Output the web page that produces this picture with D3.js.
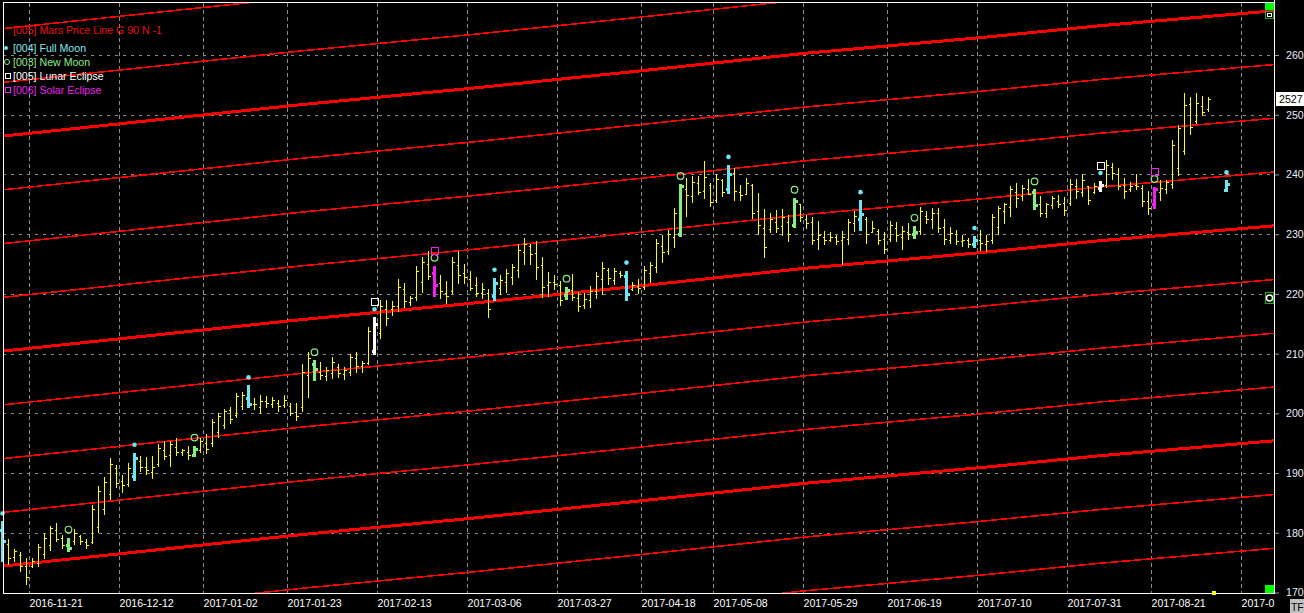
<!DOCTYPE html>
<html>
<head>
<meta charset="utf-8">
<script src="https://cdn.jsdelivr.net/npm/d3@7"></script>
<style>
  html, body { margin: 0; padding: 0; background: #000; }
  svg { display: block; }
</style>
</head>
<body>
<svg id="chart" width="1304" height="613"></svg>
<script>
"use strict";

// x axis: bar index of each labelled date, and the labels
const tickIdx = [5, 20, 34, 48, 63, 78, 93, 107, 119, 134, 148, 163, 178, 192, 207];
const tickLabels = ["2016-11-21", "2016-12-12", "2017-01-02", "2017-01-23", "2017-02-13",
  "2017-03-06", "2017-03-27", "2017-04-18", "2017-05-08", "2017-05-29", "2017-06-19",
  "2017-07-10", "2017-07-31", "2017-08-21", "2017-09-11"];
const yTicks = [170, 180, 190, 200, 210, 220, 230, 240, 250, 260];

// daily OHLC bars, index 0 = 2016-11-14
const barHigh = [181.9,178.9,177.3,176.8,175.8,175.7,178.1,179.9,181.2,181.7,
  179.6,179.2,180.6,179.7,179.0,184.7,187.9,189.4,192.5,191.4,
  189.6,191.7,193.4,192.9,192.7,192.9,194.9,195.3,195.4,195.8,
  194.0,194.6,194.6,195.8,196.6,199.0,200.1,200.8,201.1,203.4,
  203.6,204.7,202.5,203.1,202.9,202.8,202.2,203.1,201.7,201.8,
  208.3,210.3,208.9,208.6,207.8,209.4,208.2,207.8,210.0,210.3,
  208.8,214.4,216.1,219.0,219.0,218.8,222.5,221.8,219.7,224.6,
  226.1,227.1,224.7,223.2,222.1,226.1,227.1,225.0,223.8,222.9,
  221.8,220.8,222.7,223.2,224.2,225.0,228.3,229.3,228.3,228.8,
  226.1,223.6,223.2,222.2,221.2,223.4,220.3,220.1,221.4,223.6,
  225.3,224.4,224.4,223.9,223.9,222.0,222.5,224.6,225.3,229.2,
  229.9,230.7,234.4,238.4,239.4,239.7,239.7,242.2,238.6,240.0,
  239.3,241.6,241.0,238.3,239.4,238.4,236.9,234.2,233.6,234.0,
  234.2,233.2,236.1,235.1,233.2,232.8,232.2,230.6,230.4,229.9,
  230.6,232.5,233.8,235.7,232.9,232.2,230.8,230.3,232.2,232.1,
  231.4,231.8,231.4,234.6,233.9,234.4,234.4,232.5,231.2,230.7,
  229.9,229.4,229.7,230.7,229.9,233.3,234.7,235.3,238.1,238.6,
  238.3,239.3,237.5,236.4,235.3,236.4,236.6,236.2,239.2,239.2,
  240.0,237.9,238.6,238.9,242.5,241.9,241.0,239.4,238.8,240.0,
  238.3,237.2,237.9,239.0,239.0,245.8,248.3,253.6,252.9,253.6,
  253.2,252.9];
const barLow = [175.3,174.7,175.3,173.6,171.4,174.3,174.5,175.8,177.2,178.6,
  177.5,176.9,178.1,178.1,177.5,178.3,180.1,183.2,185.6,187.7,
  186.9,187.8,188.9,190.3,189.9,189.2,191.2,192.3,191.2,193.1,
  193.1,192.3,192.8,193.6,193.4,194.6,196.1,197.5,198.4,199.4,
  200.7,201.0,200.7,200.1,201.0,201.0,200.4,201.0,199.7,198.9,
  200.4,202.8,205.6,205.8,205.5,206.0,206.1,205.7,206.5,207.0,
  206.9,208.2,209.9,212.6,214.8,216.5,217.2,217.8,218.2,218.9,
  220.3,222.5,219.7,219.3,218.4,220.1,221.8,221.9,220.6,219.6,
  219.3,216.2,218.9,220.0,220.3,221.7,222.8,225.0,225.0,222.5,
  219.4,219.6,220.8,218.1,219.2,218.9,217.1,217.7,217.8,219.3,
  220.0,221.6,221.7,222.8,218.9,220.6,220.1,220.9,222.0,223.6,
  225.4,226.7,227.8,229.7,233.1,235.4,236.7,236.1,234.7,235.4,
  236.4,236.9,235.7,235.8,236.7,232.7,230.1,226.2,230.3,230.4,
  229.9,228.8,231.2,232.2,231.0,228.3,227.5,228.3,228.8,228.3,
  225.0,228.3,230.6,230.7,228.6,230.3,228.3,226.8,228.9,228.9,
  227.5,229.2,229.4,230.1,231.9,231.1,230.3,228.4,228.5,228.4,
  228.1,227.8,227.8,227.3,227.2,228.6,230.0,231.8,233.1,234.6,
  235.7,236.7,234.2,233.1,232.9,234.3,234.6,233.2,234.9,236.1,
  236.4,235.1,236.9,237.2,237.9,239.2,237.5,236.1,237.3,237.5,
  234.7,233.3,234.4,235.8,236.9,237.8,239.9,243.4,246.8,248.6,
  249.9,250.7];
const barOpen = [180.5,178.2,176.0,176.2,174.5,174.5,175.0,176.4,178.0,180.5,
  179.2,178.0,178.6,179.5,178.4,178.5,181.0,184.0,186.5,190.8,
  188.6,188.2,189.5,192.1,191.0,190.2,191.5,193.8,193.0,194.4,
  193.6,193.5,193.0,193.8,195.0,195.0,196.8,198.0,200.5,199.8,
  201.2,202.5,201.5,201.0,202.0,201.6,201.8,201.4,201.2,200.2,
  201.0,206.5,208.3,207.0,206.2,206.8,207.8,206.6,207.0,209.2,
  208.0,208.5,210.5,213.5,217.5,217.5,218.0,220.8,218.6,219.4,
  222.0,225.0,223.5,221.8,220.2,220.5,224.8,223.5,222.5,221.5,
  220.2,220.2,219.6,221.0,222.0,222.8,224.0,227.0,228.0,226.8,
  224.8,221.5,222.0,221.5,219.8,220.6,219.3,218.2,219.0,220.5,
  222.5,224.0,222.4,223.5,223.0,220.8,221.3,221.2,223.5,224.5,
  228.0,227.2,229.5,230.0,237.6,236.4,238.5,237.2,238.2,235.8,
  239.0,237.5,240.2,237.0,236.8,238.2,233.8,231.0,230.8,232.0,
  231.4,232.0,231.5,235.0,232.6,232.0,229.2,229.5,229.0,229.5,
  229.0,229.2,231.8,232.6,232.5,230.4,230.5,229.2,229.2,231.0,
  229.6,230.4,230.0,230.6,233.0,232.6,233.6,231.2,229.0,230.0,
  228.8,229.0,228.4,229.0,228.4,229.0,231.2,233.8,234.5,237.0,
  236.4,237.5,237.0,235.0,233.6,234.8,235.6,235.2,235.2,238.0,
  237.0,238.0,237.0,237.8,238.2,241.2,240.0,238.2,237.5,238.2,
  237.8,235.6,235.0,237.0,237.6,238.4,241.0,244.0,251.8,249.0,
  251.5,251.0];
const barClose = [178.6,175.8,176.9,174.4,172.6,175.2,177.6,179.2,180.8,179.0,
  178.0,177.4,179.9,178.6,178.0,184.0,187.0,188.5,191.5,188.4,
  188.0,190.9,192.6,191.0,190.5,191.0,194.2,192.8,194.9,193.6,
  193.8,193.0,194.0,195.4,194.0,198.5,199.6,200.4,199.0,202.9,
  203.0,201.5,201.5,202.0,201.8,202.2,201.2,202.2,200.0,199.5,
  207.0,209.2,207.4,206.4,207.2,208.6,206.8,207.2,209.5,208.0,
  208.4,213.8,215.0,218.0,216.0,218.0,221.2,218.8,219.3,223.8,
  225.4,223.0,221.5,220.5,219.6,225.3,223.2,222.8,221.0,220.2,
  220.8,217.5,221.8,222.4,223.5,224.5,227.4,228.3,226.6,224.5,
  221.2,222.0,221.6,219.0,220.6,219.5,218.0,219.2,220.5,223.0,
  224.4,222.6,223.8,223.2,220.0,221.5,221.0,224.0,224.8,228.5,
  227.0,230.0,233.5,238.0,236.6,238.8,237.0,239.5,235.4,239.2,
  237.0,240.0,237.3,236.6,238.6,233.5,231.5,227.8,232.5,231.0,
  232.8,230.0,235.5,232.8,231.8,229.0,229.8,229.0,229.6,228.8,
  229.5,232.0,233.0,233.4,230.0,231.0,229.0,227.6,231.5,229.8,
  230.6,230.0,230.4,233.8,232.6,233.6,231.0,229.2,230.2,228.8,
  229.0,228.4,229.0,228.5,228.9,232.8,234.4,235.0,237.5,236.0,
  237.8,236.8,234.8,233.5,235.0,236.0,235.0,234.0,238.4,237.3,
  239.0,235.8,238.0,238.2,241.6,240.2,238.0,237.2,238.0,238.0,
  235.5,234.4,237.5,237.8,238.8,245.0,247.8,251.6,248.0,252.0,
  250.5,252.7];

// astro events (bar indices)
const fullMoonIdx = [0, 22, 41, 62, 82, 104, 121, 143, 162, 183, 204];
const newMoonIdx = [11, 32, 52, 72, 94, 113, 132, 152, 172, 192];
const lunarEclipseIdx = [62, 183];
const solarEclipseIdx = [72, 192];
// projected event bar beyond the last day
const projIdx = [204];
const projHigh = [239.0];
const projLow = [237.2];
const projOpen = [237.4];
const projClose = [238.4];

// Mars price line: base line read at a few bar indices, lines every 9 points
const marsIdx = [0, 33, 50, 78, 106, 134, 163, 183, 212];
const marsBase = [174.4, 177.9, 179.7, 182.4, 185.3, 188.3, 190.9, 192.9, 195.4];
const marsSteps = [-2, -1, 0, 1, 2, 3, 4, 5, 6, 7, 8, 9, 10];

const lastPrice = "2527";

const FULL = "#6ee6f2", NEW = "#86ec86", LUNAR = "#ffffff", SOLAR = "#f21ef2";
const FONT = "Arial, 'Liberation Sans', sans-serif";

const svg = d3.select("#chart");
const plot = {left: 3, right: 1274, top: 3, bottom: 593};

const x = d3.scaleLinear().domain([0, 212]).range([2, 1274]);
const y = d3.scaleLinear().domain([170, 260]).range([592.5, 55]);
const px = v => Math.round(v) + 0.5;

svg.append("rect").attr("width", 1304).attr("height", 613).attr("fill", "#000");

const defs = svg.append("defs");
defs.append("clipPath").attr("id", "plotClip")
  .append("rect").attr("x", plot.left).attr("y", plot.top)
  .attr("width", plot.right - plot.left).attr("height", plot.bottom - plot.top);

// grid
const grid = svg.append("g").attr("shape-rendering", "crispEdges").attr("stroke", "#8c8c8c");
grid.selectAll(".hg").data(yTicks).enter().append("line")
  .attr("x1", plot.left).attr("x2", plot.right)
  .attr("y1", d => px(y(d))).attr("y2", d => px(y(d)))
  .attr("stroke-dasharray", "3,5");
grid.selectAll(".vg").data(tickIdx).enter().append("line")
  .attr("x1", d => px(x(d - 0.5))).attr("x2", d => px(x(d - 0.5)))
  .attr("y1", plot.top).attr("y2", plot.bottom)
  .attr("stroke-dasharray", "4,3");

// Mars price lines
const marsPts = marsIdx.map((i, k) => ({i: i, v: marsBase[k]}));
const red = svg.append("g").attr("clip-path", "url(#plotClip)");
marsSteps.forEach(s => {
  const line = d3.line().x(d => x(d.i)).y(d => y(d.v + 9 * s));
  red.append("path").datum(marsPts)
    .attr("d", line)
    .attr("fill", "none")
    .attr("stroke", "#ff0000")
    .attr("stroke-width", s % 4 === 0 ? 3 : 1.6)
    .attr("shape-rendering", "crispEdges");
});

// bars
function colorOf(i) {
  if (solarEclipseIdx.includes(i)) return SOLAR;
  if (lunarEclipseIdx.includes(i)) return LUNAR;
  if (fullMoonIdx.includes(i)) return FULL;
  if (newMoonIdx.includes(i)) return NEW;
  return null;
}
function barPath(d, arm) {
  const cx = px(x(d.i));
  return `M${cx},${Math.round(y(d.h))}V${Math.round(y(d.l)) + 1}` +
    `M${cx - arm},${px(y(d.o))}H${cx}M${cx},${px(y(d.c))}H${cx + arm}`;
}
const bars = barHigh.map((h, i) => ({i: i, h: h, l: barLow[i], o: barOpen[i], c: barClose[i], col: colorOf(i)}));
projIdx.forEach((i, k) => bars.push({i: i, h: projHigh[k], l: projLow[k], o: projOpen[k], c: projClose[k], col: colorOf(i)}));

const barG = svg.append("g").attr("shape-rendering", "crispEdges").attr("fill", "none");
barG.selectAll(".bar").data(bars.filter(d => !d.col)).enter().append("path")
  .attr("d", d => barPath(d, 2))
  .attr("stroke", "#ffff00").attr("stroke-width", 1);
barG.selectAll(".ebar").data(bars.filter(d => d.col)).enter().append("path")
  .attr("d", d => barPath(d, 3))
  .attr("stroke", d => d.col).attr("stroke-width", 3);

// event markers above the bars
const highOf = i => (i < barHigh.length ? barHigh[i] : projHigh[projIdx.indexOf(i)]);
const mk = svg.append("g");
mk.selectAll(".fm").data(fullMoonIdx).enter().append("circle")
  .attr("cx", d => px(x(d))).attr("cy", d => y(highOf(d)) - 8)
  .attr("r", 2.3).attr("fill", FULL);
mk.selectAll(".nm").data(newMoonIdx).enter().append("circle")
  .attr("cx", d => px(x(d))).attr("cy", d => y(highOf(d)) - 8)
  .attr("r", 3.3).attr("fill", "none").attr("stroke", NEW).attr("stroke-width", 1.2);
mk.selectAll(".le").data(lunarEclipseIdx).enter().append("rect")
  .attr("x", d => px(x(d)) - 3.5).attr("y", d => Math.round(y(highOf(d)) - 19) + 0.5)
  .attr("width", 7).attr("height", 7)
  .attr("fill", "none").attr("stroke", LUNAR).attr("shape-rendering", "crispEdges");
mk.selectAll(".se").data(solarEclipseIdx).enter().append("rect")
  .attr("x", d => px(x(d)) - 3.5).attr("y", d => Math.round(y(highOf(d)) - 19) + 0.5)
  .attr("width", 7).attr("height", 7)
  .attr("fill", "none").attr("stroke", SOLAR).attr("shape-rendering", "crispEdges");

// frame
const frame = svg.append("g").attr("stroke", "#ffffff").attr("shape-rendering", "crispEdges");
frame.append("line").attr("x1", 3.5).attr("x2", 3.5).attr("y1", 2).attr("y2", 594);
frame.append("line").attr("x1", 1274.5).attr("x2", 1274.5).attr("y1", 0).attr("y2", 594);
frame.append("line").attr("x1", 3).attr("x2", 1275).attr("y1", 593.5).attr("y2", 593.5);
frame.append("line").attr("x1", 3).attr("x2", 1275).attr("y1", 2.5).attr("y2", 2.5);

// right axis
svg.append("g")
  .attr("transform", `translate(${plot.right + 1},0)`)
  .call(d3.axisRight(y).tickValues(yTicks).tickSize(6).tickPadding(5).tickFormat(d3.format("d")))
  .call(g => g.select(".domain").remove())
  .call(g => g.selectAll(".tick line").attr("stroke", "#9a9a9a").attr("stroke-dasharray", "4,2"))
  .call(g => g.selectAll(".tick text").attr("fill", "#e6eeff").style("font-family", FONT).style("font-size", "10.6px"));

// bottom axis: labels start at the grid line; a label running past the
// plot's right edge is cut short, as the chart program does
svg.append("g")
  .attr("transform", `translate(0,${plot.bottom})`)
  .call(d3.axisBottom(x).tickValues(tickIdx.map(i => i - 0.5)).tickSize(0).tickPadding(6)
    .tickFormat((d, k) => tickLabels[k]))
  .call(g => g.select(".domain").remove())
  .call(g => g.selectAll(".tick text").attr("fill", "#ffffff").attr("text-anchor", "start")
    .attr("x", 0).style("font-family", FONT).style("font-size", "10.6px"))
  .call(g => g.selectAll(".tick").each(function(d) {
    const t = d3.select(this).select("text");
    const room = plot.right + 2 - x(d);
    let s = t.text();
    while (s.length > 1 && t.node().getComputedTextLength() > room) {
      s = s.slice(0, -1);
      t.text(s);
    }
  }));

// last price box
const lastY = y(barClose[barClose.length - 1]);
svg.append("rect").attr("x", 1276).attr("y", Math.round(lastY) - 7).attr("width", 28).attr("height", 14).attr("fill", "#ffffff");
svg.append("text").attr("x", 1279).attr("y", Math.round(lastY) + 4).text(lastPrice)
  .attr("fill", "#000").style("font-family", FONT).style("font-size", "10.6px");

// small indicator icons on the right edge
const ic = svg.append("g").attr("shape-rendering", "crispEdges");
ic.append("rect").attr("x", 1265).attr("y", 3).attr("width", 9).attr("height", 7).attr("fill", "#00ff00");
ic.append("rect").attr("x", 1265.5).attr("y", 11.5).attr("width", 8).attr("height", 7).attr("fill", "#000").attr("stroke", "#1fae1f");
ic.append("rect").attr("x", 1267.5).attr("y", 13.5).attr("width", 4).attr("height", 3).attr("fill", "none").attr("stroke", "#ffffff");
ic.append("rect").attr("x", 1265.5).attr("y", 292.5).attr("width", 8).attr("height", 11).attr("fill", "#000").attr("stroke", "#1fae1f");
svg.append("circle").attr("cx", 1269.5).attr("cy", 298).attr("r", 3).attr("fill", "none").attr("stroke", "#ffffff").attr("stroke-width", 1.4);
ic.append("rect").attr("x", 1265).attr("y", 585).attr("width", 9).attr("height", 8).attr("fill", "#00ff00");
ic.append("rect").attr("x", 1212).attr("y", 591).attr("width", 4).attr("height", 4).attr("fill", "#ffff00");

// TF box
svg.append("rect").attr("x", 1290).attr("y", 599).attr("width", 14).attr("height", 14).attr("fill", "#c0c0c0");
svg.append("text").attr("x", 1291).attr("y", 610.5).text("TF").attr("fill", "#000")
  .style("font-family", FONT).style("font-size", "10.4px");

// legend
const legend = [
  {label: "[005] Mars Price Line G 90 N -1", color: "#ee1010", sym: null},
  {label: "[004] Full Moon", color: "#86e6ee", sym: "dot"},
  {label: "[003] New Moon", color: "#8ee88e", sym: "ring"},
  {label: "[005] Lunar Eclipse", color: "#ffffff", sym: "sq"},
  {label: "[006] Solar Eclipse", color: "#ee22ee", sym: "sq"}
];
const symColor = [null, FULL, NEW, LUNAR, SOLAR];
const lg = svg.append("g");
legend.forEach((d, k) => {
  const cy = 30 + 14 * k + (k > 0 ? 4 : 0);
  lg.append("text").attr("x", 13).attr("y", cy + 4).text(d.label)
    .attr("fill", d.color).style("font-family", FONT).style("font-size", "10.6px");
  if (d.sym === "dot") {
    lg.append("circle").attr("cx", 6).attr("cy", cy).attr("r", 2).attr("fill", symColor[k]);
  } else if (d.sym === "ring") {
    lg.append("circle").attr("cx", 7).attr("cy", cy).attr("r", 2.5).attr("fill", "none").attr("stroke", symColor[k]);
  } else if (d.sym === "sq") {
    lg.append("rect").attr("x", 5.5).attr("y", cy - 2.5).attr("width", 5).attr("height", 5)
      .attr("fill", "none").attr("stroke", symColor[k]).attr("shape-rendering", "crispEdges");
  }
});
</script>
</body>
</html>
